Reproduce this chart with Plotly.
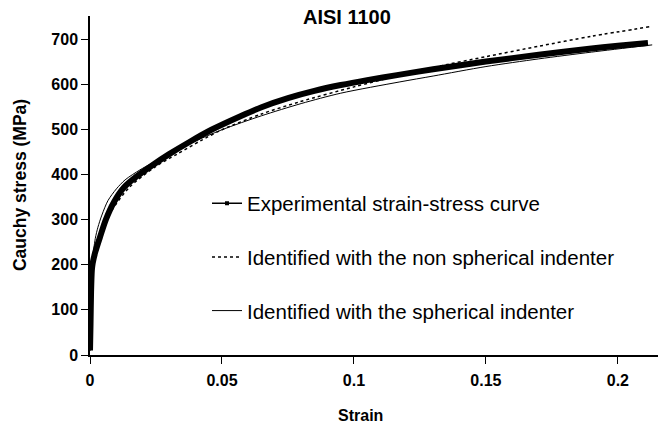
import plotly.graph_objects as go

# Experimental strain-stress curve
exp_strain = [0.0, 0.0002, 0.0004, 0.0007, 0.001, 0.002, 0.004, 0.006, 0.009, 0.013, 0.018,
              0.0235, 0.03, 0.038, 0.046, 0.057, 0.065, 0.075, 0.085, 0.095, 0.105, 0.1163,
              0.13, 0.15, 0.17, 0.19, 0.2, 0.2114]
exp_stress = [10, 70, 140, 188, 203, 228, 265, 300, 338, 372, 397,
              420, 445, 473, 499, 529, 549, 569, 585, 598, 609, 620,
              633, 650, 665, 679, 685, 691]

# Identified with the non spherical indenter
nonsph_strain = [0.0, 0.0004, 0.0008, 0.003, 0.008, 0.015, 0.025, 0.033, 0.042, 0.05, 0.065,
                 0.0795, 0.1, 0.1174, 0.13, 0.15, 0.17, 0.19, 0.213]
nonsph_stress = [10, 150, 200, 255, 318, 372, 418, 445, 475, 499, 534,
                 561, 594, 620, 637, 661, 684, 706, 728]

# Identified with the spherical indenter
sph_strain = [0.0, 0.0004, 0.0008, 0.002, 0.003, 0.0045, 0.0068, 0.01, 0.0133, 0.0189,
              0.0235, 0.03, 0.038, 0.05, 0.065, 0.08, 0.095, 0.1174, 0.13, 0.15,
              0.17, 0.19, 0.213]
sph_stress = [10, 180, 205, 258, 283, 310, 342, 368, 388, 410,
              425, 446, 469, 499, 530, 557, 580, 605, 618, 639,
              656, 671, 687]

x_tickvals = [0, 0.05, 0.1, 0.15, 0.2]
x_ticktext = ["0", "0.05", "0.1", "0.15", "0.2"]
y_tickvals = [0, 100, 200, 300, 400, 500, 600, 700]

title_text = "AISI 1100"
x_title = "Strain"
y_title = "Cauchy stress (MPa)"
names = ["Experimental strain-stress curve",
         "Identified with the non spherical indenter",
         "Identified with the spherical indenter"]

FONT = "Liberation Sans, Arial, sans-serif"

fig = go.Figure()
fig.add_trace(go.Scatter(x=exp_strain, y=exp_stress, mode="lines",
                         line=dict(color="black", width=6, shape="spline", smoothing=0.8),
                         showlegend=False))
fig.add_trace(go.Scatter(x=nonsph_strain, y=nonsph_stress, mode="lines",
                         line=dict(color="black", width=1.5, dash="dot", shape="spline", smoothing=0.8),
                         showlegend=False))
fig.add_trace(go.Scatter(x=sph_strain, y=sph_stress, mode="lines",
                         line=dict(color="black", width=1, shape="spline", smoothing=0.8),
                         showlegend=False))
# legend entries
fig.add_trace(go.Scatter(x=[None], y=[None], mode="lines+markers", name=names[0],
                         line=dict(color="black", width=1.5),
                         marker=dict(symbol="square", size=4, color="black"),
                         legendgroup="a"))
fig.add_trace(go.Scatter(x=[None], y=[None], mode="lines", name=names[1],
                         line=dict(color="black", width=1.5, dash="dot"),
                         legendgroup="b"))
fig.add_trace(go.Scatter(x=[None], y=[None], mode="lines", name=names[2],
                         line=dict(color="black", width=1),
                         legendgroup="c"))

fig.update_layout(
    width=664, height=424,
    margin=dict(l=90, r=6, t=16, b=69),
    paper_bgcolor="white", plot_bgcolor="white",
    font=dict(family=FONT, color="black"),
    showlegend=True,
    legend=dict(x=0.206, y=0.506, xanchor="left", yanchor="top",
                font=dict(size=20.5, family=FONT, color="black"),
                tracegroupgap=24, bgcolor="rgba(0,0,0,0)", itemwidth=30),
    xaxis=dict(range=[0, 0.2152], tickvals=x_tickvals, ticktext=x_ticktext,
               showgrid=False, zeroline=False, showline=True, linecolor="black",
               linewidth=1.5, ticks="outside", ticklen=7, tickcolor="black",
               ticklabelstandoff=3,
               tickfont=dict(size=16, family=FONT, weight="bold")),
    yaxis=dict(range=[0, 751], tickvals=y_tickvals,
               showgrid=False, zeroline=False, showline=True, linecolor="black",
               linewidth=1.5, ticks="outside", ticklen=7, tickcolor="black",
               tickfont=dict(size=16, family=FONT, weight="bold")),
    annotations=[
        dict(text=title_text, xref="paper", yref="paper", x=0.4525, y=0.997,
             xanchor="center", yanchor="middle", showarrow=False,
             font=dict(size=20, family=FONT, weight="bold")),
        dict(text=x_title, xref="paper", yref="paper", x=0.4754, y=-0.177,
             xanchor="center", yanchor="middle", showarrow=False,
             font=dict(size=16, family=FONT, weight="bold")),
        dict(text=y_title, xref="paper", yref="paper", x=-0.1232, y=0.5015,
             xanchor="center", yanchor="middle", showarrow=False, textangle=-90,
             font=dict(size=17.5, family=FONT, weight="bold")),
    ],
)

fig.write_html("out.html", config={"displayModeBar": False},
               post_script="document.body.style.margin='0px';")
